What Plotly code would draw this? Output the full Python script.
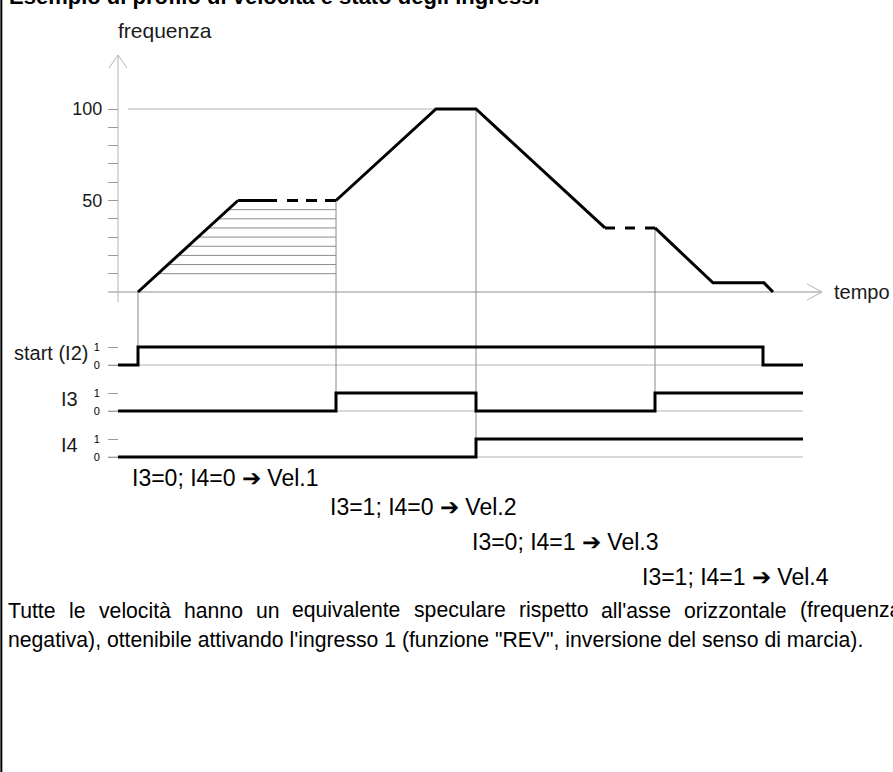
import plotly.graph_objects as go
import numpy as np

# --- data ---------------------------------------------------------------
# frequency profile (time in arbitrary units, frequency in %)
prof_t = [2.0, 12.0, 21.8, 31.8, 35.8, 48.7, 53.7, 59.5, 64.6, 65.5]
prof_f = [0, 50, 50, 100, 100, 35, 35, 5, 5, 0]
dashed_segments = [1, 5]          # plateaus drawn dashed (index of segment start)

# digital inputs (step signals)
start_t = [0, 2.0, 64.5, 68.5]
start_v = [0, 1, 0, 0]
i3_t = [0, 21.8, 35.8, 53.7, 68.5]
i3_v = [0, 1, 0, 1, 1]
i4_t = [0, 35.8, 68.5]
i4_v = [0, 1, 1]

signal_names = ["start (I2)", "I3", "I4"]
hatch_levels = [10, 15, 20, 25, 30, 35, 40, 45]
freq_ticks = [10, 20, 30, 40, 50, 60, 70, 80, 90, 100]
freq_labels = ["", "", "", "", "50", "", "", "", "", "100"]

vel_labels = ["I3=0; I4=0 ➔ Vel.1", "I3=1; I4=0 ➔ Vel.2",
              "I3=0; I4=1 ➔ Vel.3", "I3=1; I4=1 ➔ Vel.4"]

title_txt = "Esempio di profilo di velocità e stato degli ingressi"
para_1 = "Tutte le velocità hanno un equivalente speculare rispetto all'asse orizzontale (frequenza"
para_2 = "negativa), ottenibile attivando l'ingresso 1 (funzione \"REV\", inversione del senso di marcia)."

# --- page geometry -------------------------------------------------------
W, H = 893, 772
T_ORIGIN, T_PX = 118, 10.0        # time axis: pixel of t=0, px per unit
F_ZERO, F_PX = 292, 1.83          # freq axis: pixel of f=0, px per unit
SIG_BASE = [365, 411, 457]        # pixel of level 0 for each input
S_PX = 18.0
AXIS_X = T_ORIGIN / W

def paper(px, py):
    return px / W, 1 - py / H

def sig_in_freq(i, v):
    # express a signal level in main-axis (frequency) units
    py = SIG_BASE[i] - v * S_PX
    return (F_ZERO - py) / F_PX

GRAY = "#b4b4b4"
GUIDE = "#8a8a8a"
FONT = "Liberation Sans, Arial, sans-serif"

fig = go.Figure()

# hatching under the first ramp
hx, hy = [], []
for lv in hatch_levels:
    t_on_ramp = np.interp(lv, prof_f[:2], prof_t[:2])
    hx += [t_on_ramp, prof_t[2], None]
    hy += [lv, lv, None]
fig.add_trace(go.Scatter(x=hx, y=hy, mode="lines",
                         line=dict(color="#8c8c8c", width=1), hoverinfo="skip"))

# vertical guide lines from profile to input transitions
guides = [(prof_t[0], prof_f[0], 0), (prof_t[2], prof_f[2], 1),
          (prof_t[4], prof_f[4], 2), (prof_t[6], prof_f[6], 1)]
gx, gy = [], []
for t, f, i in guides:
    gx += [t, t, None]
    gy += [f, sig_in_freq(i, 1), None]
fig.add_trace(go.Scatter(x=gx, y=gy, mode="lines",
                         line=dict(color=GUIDE, width=1), hoverinfo="skip"))

# frequency profile: solid parts
sx, sy = [], []
for k in range(len(prof_t) - 1):
    if k in dashed_segments:
        sx.append(None); sy.append(None)
        continue
    if not sx or sx[-1] is None:
        sx.append(prof_t[k]); sy.append(prof_f[k])
    sx.append(prof_t[k + 1]); sy.append(prof_f[k + 1])
fig.add_trace(go.Scatter(x=sx, y=sy, mode="lines",
                         line=dict(color="black", width=3), hoverinfo="skip"))

dash_styles = {1: "39px,10px,11px,8px,11px,8px,11px", 5: "10px,10px,10px,10px,10px"}
for k in dashed_segments:
    fig.add_trace(go.Scatter(x=prof_t[k:k + 2], y=prof_f[k:k + 2], mode="lines",
                             line=dict(color="black", width=3, dash=dash_styles[k]),
                             hoverinfo="skip"))

# input signals
for i, (t, v) in enumerate([(start_t, start_v), (i3_t, i3_v), (i4_t, i4_v)]):
    fig.add_trace(go.Scatter(x=t, y=v, mode="lines", yaxis="y%d" % (i + 2),
                             line=dict(color="black", width=3, shape="hv"),
                             hoverinfo="skip"))

shapes = []
# frequency axis with open arrow
shapes.append(dict(type="line", xref="x", yref="y", x0=0, x1=0,
                   y0=-5.5, y1=129.5, line=dict(color=GRAY, width=1)))
shapes.append(dict(type="path", xref="x", yref="y",
                   path="M -0.9,122.4 L 0,129.5 L 0.9,122.4",
                   line=dict(color=GRAY, width=1)))
# time axis with open arrow
shapes.append(dict(type="line", xref="x", yref="y", x0=-1.0, x1=70.4,
                   y0=0, y1=0, line=dict(color=GRAY, width=1.5)))
shapes.append(dict(type="path", xref="x", yref="y",
                   path="M 68.9,4.4 L 70.4,0 L 68.9,-4.4",
                   line=dict(color=GRAY, width=1)))
# reference line at 100
shapes.append(dict(type="line", xref="x", yref="y", x0=1.0, x1=prof_t[3],
                   y0=100, y1=100, line=dict(color=GRAY, width=1)))
# baselines of the input signals
for i in range(3):
    shapes.append(dict(type="line", xref="x", yref="y%d" % (i + 2),
                       x0=-1.0, x1=start_t[-1], y0=0, y1=0,
                       line=dict(color=GRAY, width=1)))
for s in shapes:
    s["layer"] = "below"
# left page border
shapes.append(dict(type="line", xref="paper", yref="paper", x0=0.0015, x1=0.0015,
                   y0=0, y1=1, line=dict(color="black", width=2)))

annotations = []

def add_text(txt, px, py, size, xanchor="left", bold=False, color="#1a1a1a"):
    x, y = paper(px, py)
    annotations.append(dict(text="<b>%s</b>" % txt if bold else txt,
                            x=x, y=y, xref="paper", yref="paper",
                            xanchor=xanchor, yanchor="middle", showarrow=False,
                            font=dict(family=FONT, size=size, color=color)))

add_text(title_txt, 7, -3, 22, bold=True, color="black")
add_text("frequenza", 116, 30, 21)
add_text("tempo", 832, 292, 20)
name_right = [90, 80, 80]
for name, base, xr in zip(signal_names, SIG_BASE, name_right):
    add_text(name, xr, base - 12, 20, xanchor="right")

vel_pos = [(130, 478), (328, 507), (470, 542), (640, 577)]
for txt, (px, py) in zip(vel_labels, vel_pos):
    add_text(txt, px, py, 23, color="black")

# justified first paragraph line (Arial metrics)
AW = {"T": .611, "u": .556, "t": .278, "e": .556, "l": .222, "v": .5, "o": .556,
      "c": .5, "i": .222, "à": .556, "h": .556, "a": .556, "n": .556, "q": .556,
      "s": .5, "p": .556, "r": .333, "'": .191, "z": .5, "(": .333, "f": .278}
P_SIZE = 21.2
words = para_1.split(" ")
widths = [sum(AW.get(ch, .55) for ch in w) * P_SIZE for w in words]
left, right = 6, 899
gap = (right - left - sum(widths)) / (len(words) - 1)
xpos = left
for w, wd in zip(words, widths):
    add_text(w, xpos, 610, P_SIZE, color="black")
    xpos += wd + gap
add_text(para_2, 6, 640, P_SIZE, color="black")

yaxis_common = dict(anchor="free", position=AXIS_X, showline=False, showgrid=False,
                    zeroline=False, ticks="outside", ticklen=10, tickwidth=1,
                    tickcolor="#9a9a9a", domain=[0, 1])

fig.update_layout(
    width=W, height=H, autosize=False,
    margin=dict(l=0, r=0, t=0, b=0),
    paper_bgcolor="white", plot_bgcolor="white",
    showlegend=False,
    xaxis=dict(range=[-T_ORIGIN / T_PX, (W - T_ORIGIN) / T_PX], visible=False),
    yaxis=dict(range=[(F_ZERO - H) / F_PX, F_ZERO / F_PX],
               tickvals=freq_ticks, ticktext=freq_labels,
               tickfont=dict(family=FONT, size=18, color="#1a1a1a"),
               ticklabelstandoff=2, **yaxis_common),
    shapes=shapes,
    annotations=annotations,
)
for i, base in enumerate(SIG_BASE):
    fig.update_layout({"yaxis%d" % (i + 2): dict(
        range=[(base - H) / S_PX, base / S_PX], overlaying="y",
        tickvals=[0, 1], ticktext=["0", "1"],
        tickfont=dict(family=FONT, size=11, color="black"),
        ticklabelstandoff=6, **yaxis_common)})

# page without the default body margin so the figure fills the window
fig.write_html("out.html", config={"displayModeBar": False},
               post_script="document.body.style.margin='0';document.body.style.overflow='hidden';")
